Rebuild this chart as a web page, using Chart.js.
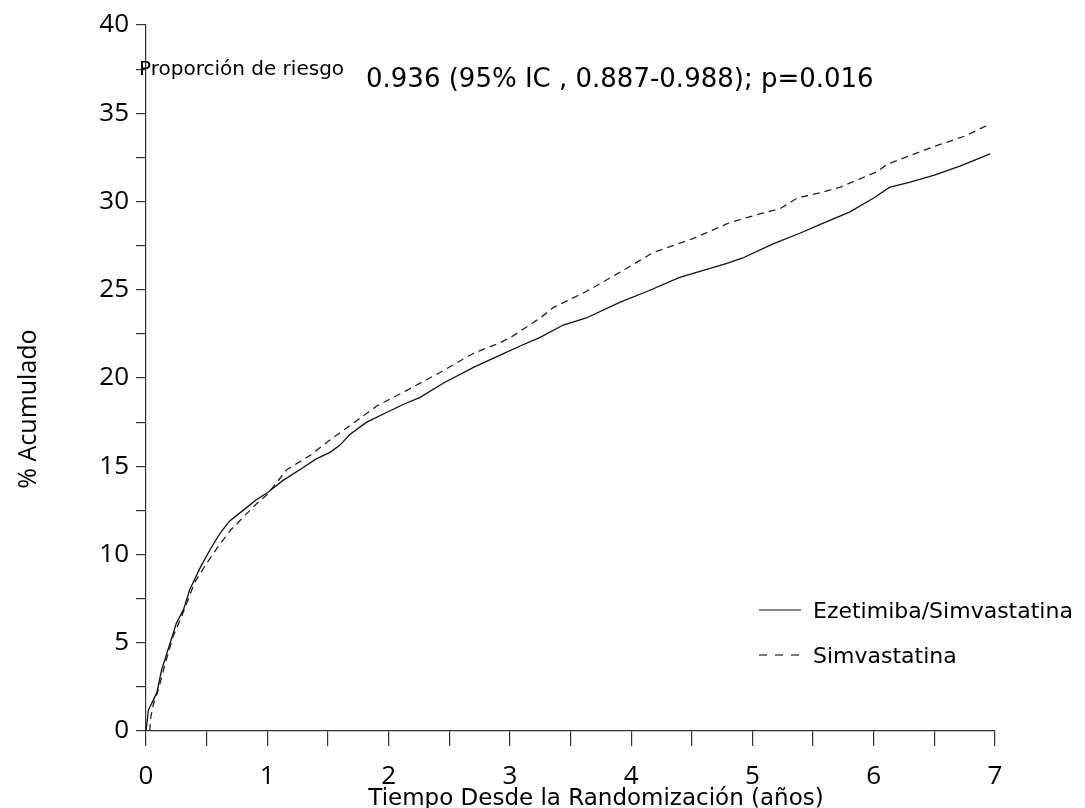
<!DOCTYPE html>
<html>
<head>
<meta charset="utf-8">
<script src="https://cdn.jsdelivr.net/npm/chart.js@4.4.0/dist/chart.umd.min.js"></script>
<style>
  body { margin: 0; background: #fff; }
  #wrap { width: 1085px; height: 808px; }
</style>
</head>
<body>
<div id="wrap"><canvas id="kmChart" width="1085" height="808"></canvas></div>
<script>
// Tiempo (años) y % acumulado
const ezeTime = [0, 0.01, 0.02, 0.06, 0.09, 0.13, 0.2, 0.25, 0.31, 0.36, 0.45, 0.53, 0.61, 0.69, 0.8, 0.91, 1.0, 1.13, 1.29, 1.4, 1.52, 1.6, 1.68, 1.82, 2.0, 2.12, 2.26, 2.45, 2.7, 2.92, 3.08, 3.25, 3.44, 3.63, 3.91, 4.13, 4.4, 4.79, 4.92, 5.17, 5.39, 5.56, 5.8, 6.0, 6.13, 6.3, 6.5, 6.71, 6.96];
const ezeCum  = [0, 0.6, 1.2, 1.75, 2.2, 3.5, 5.0, 6.1, 6.9, 8.0, 9.3, 10.3, 11.2, 11.9, 12.5, 13.1, 13.5, 14.2, 14.9, 15.4, 15.8, 16.2, 16.8, 17.5, 18.1, 18.5, 18.9, 19.7, 20.6, 21.3, 21.8, 22.3, 23.0, 23.4, 24.3, 24.9, 25.7, 26.5, 26.8, 27.6, 28.2, 28.7, 29.4, 30.2, 30.8, 31.1, 31.5, 32.0, 32.7];

const simTime = [0.03, 0.04, 0.06, 0.1, 0.15, 0.22, 0.3, 0.4, 0.5, 0.6, 0.7, 0.8, 0.9, 1.0, 1.16, 1.35, 1.5, 1.66, 1.9, 2.15, 2.42, 2.7, 2.92, 3.03, 3.25, 3.36, 3.63, 3.91, 4.18, 4.51, 4.81, 5.06, 5.23, 5.37, 5.56, 5.72, 6.03, 6.11, 6.49, 6.75, 6.96];
const simCum  = [0, 0.8, 1.5, 2.3, 3.6, 5.3, 6.6, 8.4, 9.5, 10.5, 11.4, 12.1, 12.8, 13.4, 14.8, 15.6, 16.4, 17.2, 18.4, 19.3, 20.3, 21.4, 22.0, 22.4, 23.4, 24.0, 24.9, 26.0, 27.1, 27.9, 28.8, 29.3, 29.6, 30.2, 30.5, 30.8, 31.7, 32.1, 33.1, 33.7, 34.4];

const seriesNames = ["Ezetimiba/Simvastatina", "Simvastatina"];
const riskLabel = "Proporción de riesgo";
const riskText = "0.936 (95% IC , 0.887-0.988); p=0.016";
const xTitle = "Tiempo Desde la Randomización (años)";
const yTitle = "% Acumulado";

const toPoints = (xs, ys) => xs.map((x, i) => ({ x: x, y: ys[i] }));

// Textos y leyenda dibujados sobre el gráfico
const overlayPlugin = {
  id: "overlay",
  afterDraw(chart) {
    const ctx = chart.ctx;
    ctx.save();
    ctx.fillStyle = "#000";
    ctx.textBaseline = "alphabetic";
    ctx.textAlign = "left";

    ctx.font = "20px 'DejaVu Sans'";
    ctx.fillText(riskLabel, 139, 75);
    ctx.font = "26px 'DejaVu Sans'";
    ctx.fillText(riskText, 366, 87);

    // legend
    const sets = chart.data.datasets;
    const rows = [610, 655];
    ctx.font = "22px 'DejaVu Sans'";
    sets.forEach((ds, i) => {
      const y = rows[i];
      ctx.beginPath();
      ctx.setLineDash(ds.borderDash ? [8, 8] : []);
      ctx.lineWidth = 1.2;
      ctx.strokeStyle = ds.borderColor;
      ctx.moveTo(759, y);
      ctx.lineTo(801, y);
      ctx.stroke();
      ctx.setLineDash([]);
      ctx.fillText(ds.label, 813, y + 8);
    });

    // axis titles
    ctx.textAlign = "center";
    ctx.font = "23px 'DejaVu Sans'";
    ctx.fillText(xTitle, 596, 805);

    ctx.translate(36, 409);
    ctx.rotate(-Math.PI / 2);
    ctx.font = "25px 'Open Sans'";
    ctx.fillText(yTitle, 0, 0);
    ctx.restore();
  }
};

const ctx = document.getElementById("kmChart").getContext("2d");
new Chart(ctx, {
  type: "line",
  data: {
    datasets: [
      { label: seriesNames[0], data: toPoints(ezeTime, ezeCum), borderColor: "#111", borderWidth: 1.3, pointRadius: 0, tension: 0, fill: false },
      { label: seriesNames[1], data: toPoints(simTime, simCum), borderColor: "#222", borderWidth: 1.3, borderDash: [7, 5], pointRadius: 0, tension: 0, fill: false }
    ]
  },
  options: {
    responsive: false,
    animation: false,
    layout: { padding: { top: 25, right: 90, left: 0, bottom: 0 } },
    plugins: { legend: { display: false }, tooltip: { enabled: false } },
    scales: {
      x: {
        type: "linear",
        min: 0, max: 7,
        afterFit: s => { s.height = 77; },
        border: { display: true, color: "#333", width: 1.2 },
        grid: { display: true, drawOnChartArea: false, drawTicks: true, tickLength: 15, color: "#333", lineWidth: 1.2 },
        ticks: {
          stepSize: 0.5, autoSkip: false, maxRotation: 0, padding: 15, color: "#000",
          font: { family: "'Open Sans'", size: 26 },
          callback: v => (Number.isInteger(v) ? String(v) : "")
        }
      },
      y: {
        type: "linear",
        min: 0, max: 40,
        afterFit: s => { s.width = 146; },
        border: { display: true, color: "#333", width: 1.2 },
        grid: { display: true, drawOnChartArea: false, drawTicks: true, tickLength: 10, color: "#333", lineWidth: 1.2 },
        ticks: {
          stepSize: 2.5, autoSkip: false, padding: 7, color: "#000",
          font: { family: "'Open Sans'", size: 26 },
          callback: v => (v % 5 === 0 ? String(v) : "")
        }
      }
    }
  },
  plugins: [overlayPlugin]
});
</script>
</body>
</html>
